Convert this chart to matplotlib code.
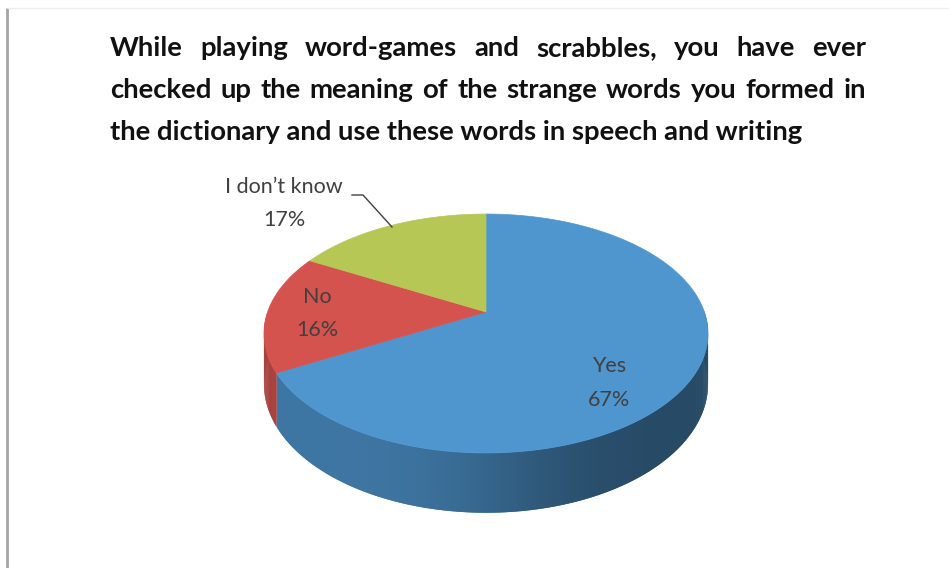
import numpy as np
import matplotlib.pyplot as plt
from matplotlib.colors import to_rgb
from matplotlib.patches import Polygon

# survey answers, clockwise from 12 o'clock
labels = ["Yes", "No", "I don\u2019t know"]
shares = [67, 16, 17]
top_colors = ["#4f96cf", "#d5534f", "#b7c756"]

title_lines = [
    "While playing word-games and scrabbles, you have ever",
    "checked up the meaning of the strange words you formed in",
    "the dictionary and use these words in speech and writing",
]

W, H = 949, 568

# perspective disc: centre, radii, foreshortening and wall height (pixels)
CX, CY = 486, 312
RX, RY = 218.4, 115.6
K = 0.18
DEPTH = 49


def rim(t_deg, drop=0.0):
    t = np.radians(t_deg)
    w = 1 + K * np.sin(t)
    return CX + RX * np.cos(t) / w, CY - RY * np.sin(t) / w + drop / w


def wall_shade(t_deg):
    # light comes from the left, the right-hand wall falls into shadow
    t = t_deg % 360
    return 0.49 + 0.30 / (1 + np.exp((t - 275) / 10))


fig = plt.figure(figsize=(W / 100, H / 100), dpi=100)
ax = fig.add_axes([0, 0, 1, 1])
ax.set_xlim(0, W)
ax.set_ylim(H, 0)
ax.axis("off")

# frame edges
ax.plot([7, 7], [8, H], color="#a6a6a6", lw=2, solid_capstyle="butt")
ax.plot([8, W], [8, 8], color="#ececec", lw=1)

# slice angle ranges (degrees, counter-clockwise maths convention)
bounds = []
start = 90.0
for s in shares:
    end = start - s * 3.6
    bounds.append((end, start))
    start = end

# side walls of the front half, built from thin overlapping strips
for (a, b), col in zip(bounds, top_colors):
    ts = np.linspace(a, b, max(int((b - a) * 2), 2))
    step = ts[1] - ts[0]
    base = np.array(to_rgb(col))
    for t0, t1 in zip(ts[:-1], ts[1:]):
        tm = 0.5 * (t0 + t1)
        if np.sin(np.radians(tm)) >= 0:
            continue
        t1e = min(t1 + step, b)
        sub = np.linspace(t0, t1e, 4)
        xt, yt = rim(sub)
        xb, yb = rim(sub[::-1], DEPTH)
        pts = list(zip(xt, yt)) + list(zip(xb, yb))
        c = np.clip(base * wall_shade(tm), 0, 1)
        ax.add_patch(Polygon(pts, closed=True, facecolor=c, edgecolor="none"))

# top faces
for (a, b), col in zip(bounds, top_colors):
    ts = np.linspace(a, b, 200)
    xs, ys = rim(ts)
    pts = [(CX, CY)] + list(zip(xs, ys))
    ax.add_patch(Polygon(pts, closed=True, facecolor=col, edgecolor=col, lw=0.5))

# title, first two lines justified to the block width
title_kw = dict(fontfamily="Lato", fontweight="bold", color="#111111")
TITLE_LEFT, TITLE_RIGHT = 110, 866
title_base = [56, 98, 140]
renderer = fig.canvas.get_renderer()

probe = ax.text(0, 0, title_lines[-1], fontsize=18, **title_kw)
title_size = 18 * 695 / probe.get_window_extent(renderer).width
probe.remove()

for i, line in enumerate(title_lines):
    y = title_base[i]
    if i == len(title_lines) - 1:
        ax.text(TITLE_LEFT, y, line, ha="left", va="baseline",
                fontsize=title_size, **title_kw)
        continue
    words = line.split()
    items = [ax.text(0, y, wd, ha="left", va="baseline",
                     fontsize=title_size, **title_kw) for wd in words]
    widths = [t.get_window_extent(renderer).width for t in items]
    gap = (TITLE_RIGHT - TITLE_LEFT - sum(widths)) / (len(words) - 1)
    x = TITLE_LEFT
    for t, wd in zip(items, widths):
        t.set_x(x)
        x += wd + gap

# data labels
label_kw = dict(fontfamily="Lato", fontsize=15.5, color="#404040",
                ha="center", va="center")
label_pos = [(609, 366, 400), (317, 297, 330), (284, 187, 220)]
for name, val, (lx, ly1, ly2) in zip(labels, shares, label_pos):
    ax.text(lx, ly1, name, **label_kw)
    ax.text(lx, ly2, f"{val}%", **label_kw)

# leader line for the small green slice
ax.plot([352, 363, 392], [195, 195, 227], color="#404040", lw=1)

fig.savefig("out.png", dpi=100)
